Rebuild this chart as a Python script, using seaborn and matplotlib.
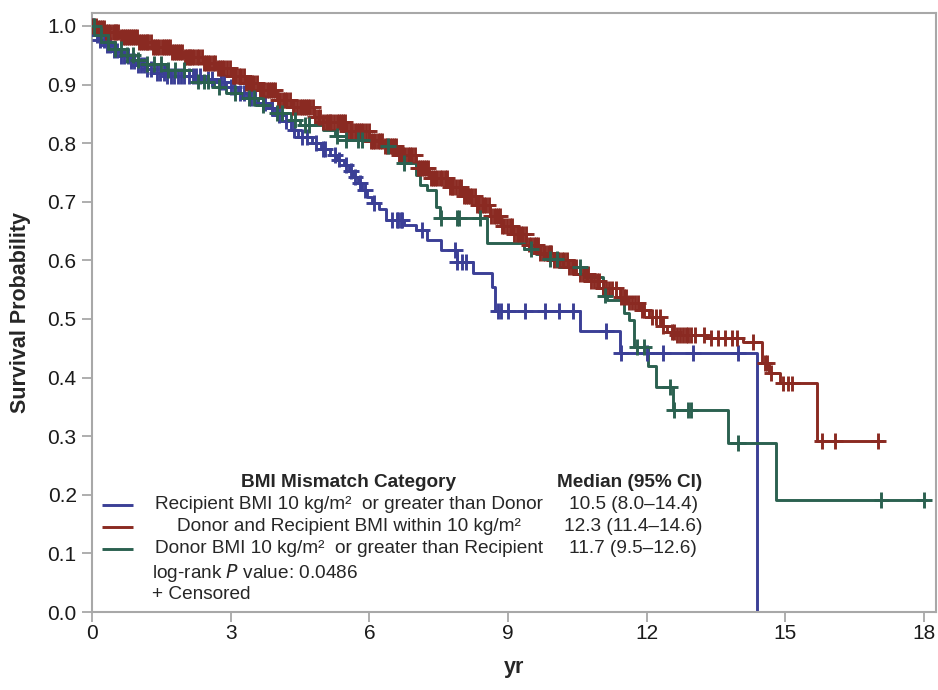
import numpy as np
import pandas as pd
import matplotlib
matplotlib.use("Agg")
import matplotlib.pyplot as plt
import seaborn as sns

# ---- Kaplan-Meier step data (time in years, survival probability) ----
recip_t = [0, 0.05, 0.15, 0.3, 0.45, 0.6, 0.8, 0.95, 1.15, 1.3, 1.6, 2.4, 2.7, 2.9,
           3.15, 3.35, 3.6, 3.8, 3.95, 4.1, 4.3, 4.45, 4.75, 4.95, 5.15, 5.3, 5.45,
           5.55, 5.65, 5.75, 5.85, 5.95, 6.05, 6.2, 6.35, 6.75, 7.0, 7.25, 7.55,
           7.9, 8.25, 8.65, 8.72, 10.55, 11.42, 14.38]
recip_s = [1.0, 0.985, 0.976, 0.967, 0.958, 0.948, 0.94, 0.933, 0.927, 0.92, 0.915,
           0.91, 0.904, 0.896, 0.886, 0.877, 0.868, 0.86, 0.848, 0.838, 0.823, 0.81,
           0.80, 0.79, 0.78, 0.772, 0.762, 0.752, 0.742, 0.732, 0.72, 0.708, 0.698,
           0.687, 0.669, 0.66, 0.652, 0.635, 0.617, 0.597, 0.578, 0.555, 0.513,
           0.479, 0.442, 0.0]
recip_cens = [0.03, 0.1, 0.18, 0.25, 0.33, 0.4, 0.48, 0.55, 0.63, 0.7, 0.77, 0.85,
              0.9, 1.0, 1.05, 1.12, 1.2, 1.27, 1.4, 1.48, 1.55, 1.62, 1.7, 1.78, 1.85,
              1.93, 2.0, 2.1, 2.18, 2.25, 2.33, 2.5, 2.6, 2.8, 2.85, 3.0, 3.08, 3.2,
              3.28, 3.45, 3.52, 3.7, 3.75, 3.9, 4.05, 4.2, 4.38, 4.55, 4.65, 4.85,
              5.0, 5.05, 5.25, 5.35, 5.5, 5.6, 5.7, 5.8, 5.9, 6.1, 6.5, 6.6, 6.62,
              6.68, 6.7, 7.15, 7.85, 7.9, 8.0, 8.1, 8.78, 8.85, 9.0, 9.36, 9.8, 10.1,
              10.4, 11.13, 11.45, 12.0, 12.35, 13.0, 13.97]

within_t = [0, 0.1, 0.3, 0.6, 1.0, 1.3, 1.7, 2.0, 2.4, 2.7, 3.0, 3.3, 3.6, 4.0, 4.3,
            4.8, 5.0, 5.5, 6.0, 6.3, 6.6, 7.0, 7.3, 7.7, 8.0, 8.3, 8.6, 8.85, 9.1,
            9.4, 9.7, 10.0, 10.3, 10.55, 10.8, 11.05, 11.42, 11.6, 11.85, 12.05,
            12.3, 12.45, 12.65, 13.3, 14.08, 14.5, 14.65, 14.88, 15.68, 17.12]
within_s = [1.0, 0.996, 0.99, 0.981, 0.972, 0.964, 0.955, 0.947, 0.937, 0.928, 0.914,
            0.902, 0.89, 0.873, 0.862, 0.845, 0.836, 0.82, 0.804, 0.795, 0.78, 0.757,
            0.74, 0.725, 0.71, 0.695, 0.675, 0.658, 0.645, 0.627, 0.612, 0.6, 0.588,
            0.576, 0.565, 0.552, 0.538, 0.528, 0.515, 0.503, 0.488, 0.478, 0.472,
            0.468, 0.46, 0.425, 0.408, 0.39, 0.292, 0.292]
within_cens = [0.03, 0.08, 0.12, 0.17, 0.21, 0.26, 0.3, 0.34, 0.39, 0.45, 0.49, 0.52,
               0.57, 0.63, 0.67, 0.71, 0.75, 0.79, 0.84, 0.88, 0.92, 0.97, 1.01, 1.06,
               1.1, 1.14, 1.18, 1.22, 1.27, 1.33, 1.37, 1.41, 1.46, 1.52, 1.56, 1.61,
               1.65, 1.69, 1.73, 1.78, 1.82, 1.86, 1.9, 1.95, 2.01, 2.06, 2.09, 2.13,
               2.17, 2.21, 2.27, 2.32, 2.37, 2.43, 2.47, 2.51, 2.56, 2.62, 2.67, 2.73,
               2.77, 2.81, 2.86, 2.92, 2.98, 3.04, 3.08, 3.12, 3.17, 3.23, 3.28, 3.34,
               3.38, 3.42, 3.46, 3.51, 3.57, 3.63, 3.67, 3.72, 3.78, 3.83, 3.87, 3.91,
               3.96, 4.02, 4.07, 4.13, 4.17, 4.22, 4.28, 4.34, 4.38, 4.43, 4.49, 4.55,
               4.59, 4.64, 4.68, 4.72, 4.78, 4.83, 4.88, 4.94, 5.0, 5.06, 5.1, 5.14,
               5.18, 5.23, 5.29, 5.35, 5.39, 5.44, 5.48, 5.52, 5.58, 5.63, 5.69, 5.74,
               5.78, 5.82, 5.87, 5.93, 5.99, 6.04, 6.08, 6.12, 6.18, 6.24, 6.28, 6.33,
               6.39, 6.45, 6.49, 6.53, 6.58, 6.64, 6.68, 6.72, 6.78, 6.84, 6.88, 6.93,
               6.99, 7.05, 7.09, 7.14, 7.18, 7.22, 7.28, 7.34, 7.38, 7.43, 7.47, 7.52,
               7.58, 7.63, 7.68, 7.74, 7.78, 7.82, 7.87, 7.93, 7.98, 8.04, 8.09, 8.13,
               8.17, 8.22, 8.28, 8.34, 8.38, 8.43, 8.48, 8.52, 8.58, 8.63, 8.69, 8.74,
               8.78, 8.83, 8.88, 8.92, 8.98, 9.05, 9.09, 9.13, 9.19, 9.24, 9.28, 9.33,
               9.39, 9.45, 9.5, 9.56, 9.6, 9.64, 9.7, 9.75, 9.8, 9.86, 9.9, 9.94, 10.0,
               10.05, 10.11, 10.16, 10.22, 10.27, 10.33, 10.38, 10.42, 10.47, 10.55,
               10.62, 10.68, 10.74, 10.8, 10.86, 10.92, 10.97, 11.05, 11.12, 11.18,
               11.25, 11.34, 11.45, 11.5, 11.55, 11.62, 11.68, 11.75, 11.82, 11.9,
               11.95, 12.12, 12.2, 12.28, 12.35, 12.55, 12.6, 12.66, 12.72, 12.78,
               12.85, 12.9, 12.95, 13.05, 13.25, 13.4, 13.55, 13.7, 13.85, 13.95,
               14.3, 14.55, 14.6, 14.7, 14.95, 15.05, 15.15, 15.8, 16.07, 17.0]

donor_t = [0, 0.1, 0.3, 0.5, 0.7, 0.9, 1.1, 1.6, 2.2, 2.65, 2.9, 3.25, 3.6, 3.9, 4.3,
           4.5, 5.0, 5.25, 5.5, 6.2, 6.55, 6.67, 7.0, 7.1, 7.25, 7.45, 7.52, 8.54,
           9.35, 9.6, 9.85, 10.1, 10.65, 11.05, 11.15, 11.5, 11.62, 11.72, 12.02,
           12.2, 12.57, 13.76, 14.8, 18.05]
donor_s = [1.0, 0.985, 0.972, 0.96, 0.95, 0.942, 0.935, 0.925, 0.905, 0.896, 0.886,
           0.877, 0.865, 0.852, 0.84, 0.831, 0.823, 0.812, 0.805, 0.795, 0.78, 0.766,
           0.745, 0.728, 0.72, 0.691, 0.672, 0.63, 0.62, 0.61, 0.602, 0.588, 0.572,
           0.54, 0.532, 0.51, 0.498, 0.452, 0.42, 0.384, 0.345, 0.288, 0.191, 0.191]
donor_cens = [0.05, 0.2, 0.35, 0.5, 0.62, 0.75, 0.88, 1.0, 1.2, 1.35, 1.5, 1.65, 1.8,
              2.0, 2.3, 2.42, 2.5, 2.75, 3.1, 3.4, 3.5, 3.7, 4.0, 4.1, 4.4, 4.6, 4.7,
              5.3, 5.5, 5.75, 5.85, 6.4, 6.75, 7.55, 7.9, 7.95, 8.4, 9.5, 9.9, 10.05,
              10.55, 11.1, 11.8, 11.95, 12.5, 12.6, 12.9, 12.95, 13.98, 17.08, 18.0]

groups = ["Recipient BMI 10 kg/m\u00b2  or greater than Donor",
          "Donor and Recipient BMI within 10 kg/m\u00b2",
          "Donor BMI 10 kg/m\u00b2  or greater than Recipient"]
medians = ["10.5 (8.0\u201314.4)", "12.3 (11.4\u201314.6)", "11.7 (9.5\u201312.6)"]
colors = ["#3b3f96", "#8a2a22", "#2b6150"]

steps = [(recip_t, recip_s), (within_t, within_s), (donor_t, donor_s)]
cens = [recip_cens, within_cens, donor_cens]

curve_df = pd.concat(
    [pd.DataFrame({"yr": t, "surv": s, "group": g}) for (t, s), g in zip(steps, groups)],
    ignore_index=True)


def surv_at(t_arr, s_arr, times):
    idx = np.searchsorted(np.asarray(t_arr), np.asarray(times), side="right") - 1
    return np.asarray(s_arr)[idx]


cens_df = pd.concat(
    [pd.DataFrame({"yr": c, "surv": surv_at(t, s, c), "group": g})
     for (t, s), c, g in zip(steps, cens, groups)],
    ignore_index=True)

sns.set_theme(style="white")
plt.rcParams["font.family"] = ["Liberation Sans", "DejaVu Sans"]

fig = plt.figure(figsize=(9.38, 6.90), dpi=100)
ax = fig.add_axes([92 / 938, 78 / 690, 844 / 938, 599 / 690])

palette = dict(zip(groups, colors))
sns.lineplot(data=curve_df, x="yr", y="surv", hue="group", palette=palette,
             estimator=None, sort=False, drawstyle="steps-post", linewidth=2.1,
             legend=False, ax=ax)
sns.scatterplot(data=cens_df, x="yr", y="surv", hue="group", palette=palette,
                marker="+", s=130, linewidth=2.1, legend=False, ax=ax, zorder=3)

ax.set_xlim(0, 18.26)
ax.set_ylim(0, 1.022)
ax.set_xticks([0, 3, 6, 9, 12, 15, 18])
ax.set_yticks(np.round(np.arange(0, 1.01, 0.1), 1))
ax.set_yticklabels([f"{v:.1f}" for v in np.arange(0, 1.01, 0.1)])
ax.tick_params(axis="both", which="major", direction="out", length=7, width=1.3,
               color="#a8a8a8", labelsize=15, labelcolor="#1a1a1a", pad=4,
               bottom=True, left=True)
ax.tick_params(axis="x", pad=1.5)
for sp in ax.spines.values():
    sp.set_color("#a8a8a8")
    sp.set_linewidth(1.5)
ax.set_xlabel("yr", fontsize=15.5, fontweight="bold", labelpad=10)
ax.set_ylabel("Survival Probability", fontsize=15.5, fontweight="bold", labelpad=12)
ax.grid(False)

# Inset legend table
fs = 13.7
tr = ax.transAxes
ax.text(0.3045, 0.216, "BMI Mismatch Category", transform=tr, ha="center",
        va="center", fontsize=fs, fontweight="bold")
ax.text(0.637, 0.216, "Median (95% CI)", transform=tr, ha="center", va="center",
        fontsize=fs, fontweight="bold")
rows_y = [0.179, 0.142, 0.106]
for g, m, c, y in zip(groups, medians, colors, rows_y):
    ax.plot([0.012, 0.049], [y, y], color=c, linewidth=2.1, transform=tr,
            solid_capstyle="butt")
    ax.text(0.3045, y, g, transform=tr, ha="center", va="center", fontsize=fs)
    ax.text(0.641, y, m, transform=tr, ha="center", va="center", fontsize=fs)
ax.text(0.0711, 0.065, "log-rank $\\it{P}$ value: 0.0486", transform=tr,
        ha="left", va="center", fontsize=fs)
ax.text(0.0711, 0.030, "+ Censored", transform=tr, ha="left", va="center",
        fontsize=fs)

fig.savefig("out.png", dpi=100)
